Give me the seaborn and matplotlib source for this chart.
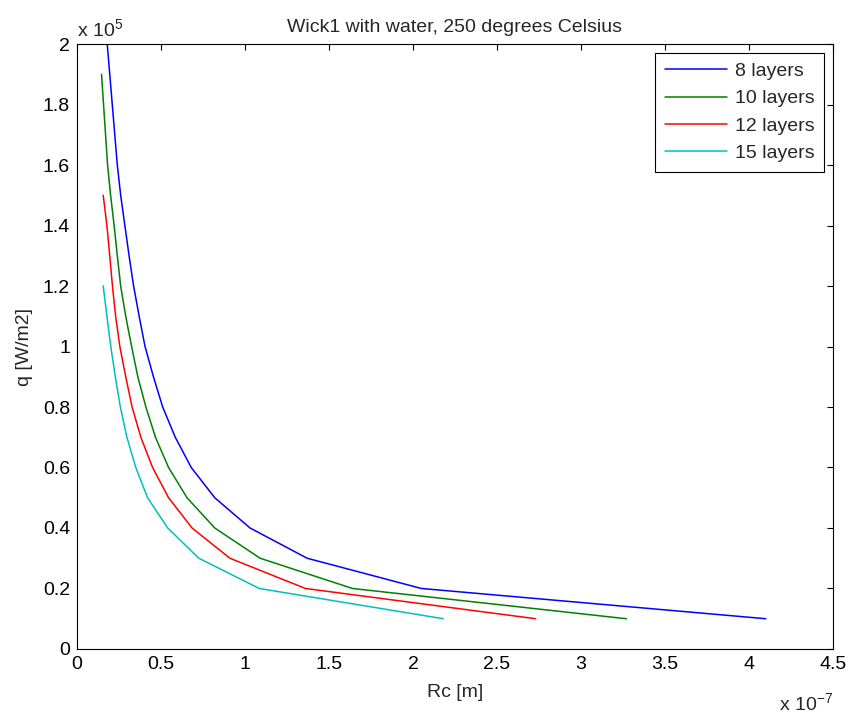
import matplotlib
matplotlib.use("Agg")
import matplotlib.pyplot as plt
import seaborn as sns
import pandas as pd
from matplotlib.ticker import FuncFormatter, MultipleLocator

# q in units of 1e5 W/m2, Rc in units of 1e-7 m
q_8 = [0.1, 0.2, 0.3, 0.4, 0.5, 0.6, 0.7, 0.8, 0.9, 1.0,
       1.1, 1.2, 1.3, 1.4, 1.5, 1.6, 1.7, 1.8, 1.9, 2.0]
rc_8 = [4.10, 2.05, 1.37, 1.03, 0.82, 0.68, 0.585, 0.51, 0.455, 0.405,
        0.37, 0.337, 0.31, 0.285, 0.26, 0.24, 0.225, 0.21, 0.195, 0.18]

q_10 = [0.1, 0.2, 0.3, 0.4, 0.5, 0.6, 0.7, 0.8, 0.9, 1.0,
        1.1, 1.2, 1.3, 1.4, 1.5, 1.6, 1.7, 1.8, 1.9]
rc_10 = [3.27, 1.64, 1.09, 0.82, 0.655, 0.545, 0.467, 0.41, 0.362, 0.325,
         0.29, 0.26, 0.24, 0.221, 0.20, 0.182, 0.17, 0.158, 0.146]

q_12 = [0.1, 0.2, 0.3, 0.4, 0.5, 0.6, 0.7, 0.8, 0.9, 1.0,
        1.1, 1.2, 1.3, 1.4, 1.5]
rc_12 = [2.73, 1.36, 0.91, 0.685, 0.545, 0.45, 0.38, 0.328, 0.29, 0.255,
         0.23, 0.211, 0.195, 0.178, 0.156]

q_15 = [0.1, 0.2, 0.3, 0.4, 0.5, 0.6, 0.7, 0.8, 0.9, 1.0, 1.1, 1.2]
rc_15 = [2.18, 1.085, 0.725, 0.54, 0.42, 0.35, 0.297, 0.258, 0.228, 0.201,
         0.178, 0.156]

labels = ["8 layers", "10 layers", "12 layers", "15 layers"]
colors = ["#0000ff", "#008000", "#ff0000", "#00bfbf"]

frames = []
for lab, rc, q in zip(labels, [rc_8, rc_10, rc_12, rc_15], [q_8, q_10, q_12, q_15]):
    frames.append(pd.DataFrame({"Rc": rc, "q": q, "layers": lab}))
df = pd.concat(frames, ignore_index=True)

sns.set_style("white")
plt.rcParams["font.family"] = ["Liberation Sans", "DejaVu Sans"]
plt.rcParams["mathtext.fontset"] = "custom"
plt.rcParams["mathtext.rm"] = "Liberation Sans"
plt.rcParams["mathtext.it"] = "Liberation Sans:italic"
plt.rcParams["axes.unicode_minus"] = False
fs = 14

fig = plt.figure(figsize=(8.48, 7.16), dpi=100)
ax = fig.add_axes([0.0908, 0.0936, 0.8915, 0.8449])

sns.lineplot(data=df, x="Rc", y="q", hue="layers", palette=colors,
             estimator=None, sort=False, lw=1.1, ax=ax)

ax.set_xlim(0, 4.5)
ax.set_ylim(0, 2)
ax.xaxis.set_major_locator(MultipleLocator(0.5))
ax.yaxis.set_major_locator(MultipleLocator(0.2))
fmt = FuncFormatter(lambda v, p: f"{v:g}")
ax.xaxis.set_major_formatter(fmt)
ax.yaxis.set_major_formatter(fmt)
ax.tick_params(direction="in", length=4.5, width=0.8, top=True, right=True,
               labelsize=fs, colors="black", pad=5)
for s in ax.spines.values():
    s.set_visible(True)
    s.set_color("black")
    s.set_linewidth(0.8)

ax.set_title("Wick1 with water, 250 degrees Celsius", fontsize=fs, pad=9)
ax.set_xlabel("Rc [m]", fontsize=fs, labelpad=8)
ax.set_ylabel("q [W/m2]", fontsize=fs, labelpad=7)

ax.text(0.0, 1.006, r"x 10$^{5}$", transform=ax.transAxes, ha="left",
        va="bottom", fontsize=fs)
ax.text(1.0, -0.072, r"x 10$^{-7}$", transform=ax.transAxes, ha="right",
        va="top", fontsize=fs)

leg = ax.legend(loc="upper right", fontsize=fs, frameon=True, fancybox=False,
                framealpha=1, edgecolor="black", handlelength=3.2,
                handletextpad=0.4, labelspacing=0.5, borderpad=0.5,
                borderaxespad=0.45)
leg.get_frame().set_linewidth(0.8)

fig.savefig("out.png", dpi=100)
